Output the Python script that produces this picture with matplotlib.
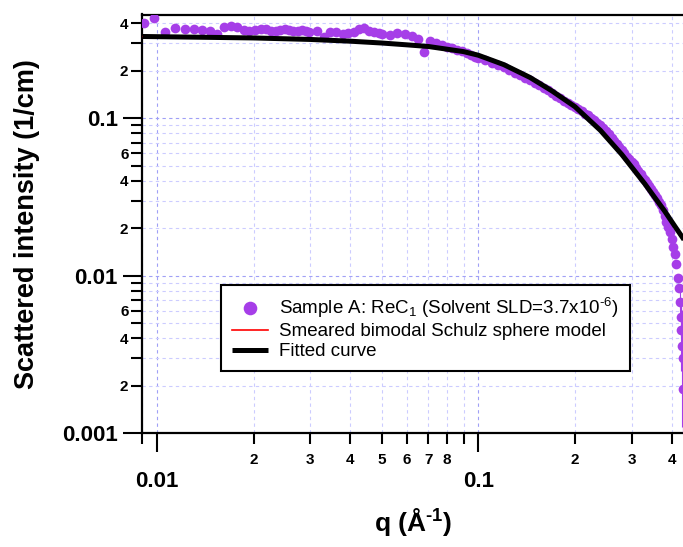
import numpy as np
import matplotlib
matplotlib.use('Agg')
import matplotlib.pyplot as plt
from matplotlib.ticker import LogLocator, FuncFormatter

plt.rcParams['font.family'] = 'Liberation Sans'
plt.rcParams['font.weight'] = 'bold'
plt.rcParams['axes.labelweight'] = 'bold'
plt.rcParams['mathtext.fontset'] = 'custom'
plt.rcParams['mathtext.rm'] = 'Liberation Sans'
plt.rcParams['mathtext.bf'] = 'Liberation Sans:bold'
plt.rcParams['mathtext.default'] = 'regular'

# measured data (sample A)
q_data = [
    0.0091, 0.0098, 0.0106, 0.0114, 0.0122, 0.0130, 0.0138, 0.0146, 0.0154, 0.0162,
    0.0170, 0.0178, 0.0186, 0.0194, 0.0202, 0.0210, 0.0218, 0.0226, 0.0234, 0.0242,
    0.0250, 0.0258, 0.0266, 0.0274, 0.0282, 0.0290, 0.0298, 0.0314, 0.0330, 0.0346,
    0.0362, 0.0378, 0.0394, 0.0410, 0.0426, 0.0442, 0.0458, 0.0474, 0.0490,
    0.050, 0.053, 0.056, 0.059, 0.062, 0.065, 0.068, 0.071, 0.074, 0.077,
    0.080, 0.083, 0.086, 0.089, 0.092, 0.095, 0.098,
    0.100, 0.105, 0.110, 0.115, 0.120, 0.125, 0.130, 0.135, 0.140, 0.145,
    0.150, 0.155, 0.160, 0.165, 0.170, 0.175, 0.180, 0.185, 0.190, 0.195,
    0.200, 0.205, 0.210, 0.215, 0.220, 0.225, 0.230, 0.235, 0.240, 0.245,
    0.250, 0.255, 0.260, 0.265, 0.270, 0.275, 0.280, 0.285, 0.290, 0.295,
    0.300, 0.305, 0.310, 0.315, 0.320, 0.325, 0.330, 0.335, 0.340, 0.345,
    0.350, 0.355, 0.360, 0.365, 0.370, 0.375, 0.380, 0.385, 0.390, 0.395,
    0.400, 0.405, 0.410, 0.414, 0.418, 0.421, 0.424, 0.427, 0.429, 0.431,
    0.433, 0.434,
]
I_data = [
    0.400, 0.430, 0.350, 0.371, 0.368, 0.366, 0.363, 0.358, 0.343, 0.378,
    0.382, 0.380, 0.362, 0.358, 0.365, 0.370, 0.366, 0.360, 0.357, 0.362,
    0.368, 0.365, 0.356, 0.360, 0.364, 0.358, 0.354, 0.360, 0.328, 0.352,
    0.350, 0.342, 0.345, 0.352, 0.366, 0.372, 0.356, 0.350, 0.345,
    0.342, 0.338, 0.346, 0.340, 0.330, 0.318, 0.264, 0.310, 0.300, 0.290,
    0.284, 0.278, 0.272, 0.265, 0.258, 0.252, 0.246,
    0.241, 0.233, 0.225, 0.217, 0.210, 0.202, 0.194, 0.187, 0.180, 0.174,
    0.168, 0.162, 0.156, 0.150, 0.144, 0.139, 0.134, 0.129, 0.125, 0.121,
    0.117, 0.114, 0.111, 0.107, 0.104, 0.100, 0.097, 0.093, 0.090, 0.086,
    0.083, 0.079, 0.075, 0.072, 0.069, 0.066, 0.063, 0.060, 0.057, 0.055,
    0.053, 0.051, 0.048, 0.046, 0.044, 0.042, 0.0405, 0.039, 0.037, 0.0355,
    0.034, 0.0325, 0.031, 0.0295, 0.028, 0.026, 0.024, 0.022, 0.0205, 0.019,
    0.0172, 0.0152, 0.0138, 0.0118, 0.0097, 0.0083, 0.0068, 0.0055, 0.0045, 0.0036,
    0.0030, 0.0019,
]
# error bars only matter on the last few points
q_tail = [0.424, 0.427, 0.429, 0.431, 0.433, 0.434]
I_tail = [0.0068, 0.0055, 0.0045, 0.0036, 0.0030, 0.0019]
err_tail = [0.0012, 0.0015, 0.002, 0.0025, 0.003, 0.009]

# fitted model curve
q_fit = [0.009, 0.02, 0.03, 0.04, 0.05, 0.06, 0.07, 0.08, 0.09, 0.10,
         0.11, 0.12, 0.1325, 0.145, 0.1575, 0.17, 0.185, 0.20, 0.22, 0.24,
         0.26, 0.28, 0.305, 0.33, 0.355, 0.38, 0.41, 0.44]
I_fit = [0.330, 0.323, 0.316, 0.308, 0.300, 0.292, 0.285, 0.274, 0.2645, 0.251,
         0.2337, 0.2189, 0.1983, 0.1812, 0.1634, 0.1485, 0.1319, 0.1183, 0.0987, 0.0837,
         0.0696, 0.0587, 0.0470, 0.0383, 0.0312, 0.0258, 0.0205, 0.0166]

PURPLE = '#a63ee8'

fig = plt.figure(figsize=(6.83, 5.47), dpi=100)
W, H = 683, 547
ax = fig.add_axes([142.3 / W, 1 - 433.3 / H, (684 - 142.3) / W, (433.3 - 14.5) / H])

ax.set_xscale('log')
ax.set_yscale('log')
ax.set_xlim(0.009, 0.437)
ax.set_ylim(0.001, 0.455)

# grid
ax.grid(which='major', color='#a0a0f6', ls=(0, (3, 3)), lw=0.8)
ax.grid(which='minor', color='#ccccff', ls=(0, (3, 3)), lw=0.8)
ax.set_axisbelow(True)

pts, = ax.plot(q_data, I_data, 'o', color=PURPLE, ms=7, mec='none', zorder=3)
ax.errorbar(q_tail, I_tail, yerr=err_tail, fmt='none', ecolor=PURPLE, elinewidth=0.8, zorder=3)
red, = ax.plot(q_fit, I_fit, color='red', lw=1.2, zorder=4)
fit, = ax.plot(q_fit, I_fit, color='black', lw=3.6, zorder=5, solid_capstyle='butt')

# ticks
def major_fmt(v, pos):
    return '%g' % v

def minor_fmt(keep):
    def f(v, pos):
        d = int(round(v / 10 ** np.floor(np.log10(v) + 1e-9)))
        return str(d) if d in keep else ''
    return f

ax.xaxis.set_major_locator(LogLocator(base=10))
ax.xaxis.set_minor_locator(LogLocator(base=10, subs=np.arange(2, 10), numticks=20))
ax.xaxis.set_major_formatter(FuncFormatter(major_fmt))
ax.xaxis.set_minor_formatter(FuncFormatter(minor_fmt({2, 3, 4, 5, 6, 7, 8})))
ax.yaxis.set_major_locator(LogLocator(base=10))
ax.yaxis.set_minor_locator(LogLocator(base=10, subs=np.arange(2, 10), numticks=20))
ax.yaxis.set_major_formatter(FuncFormatter(major_fmt))
ax.yaxis.set_minor_formatter(FuncFormatter(minor_fmt({2, 4, 6})))

ax.tick_params(which='major', direction='out', length=13.5, width=1.5, labelsize=16)
ax.tick_params(which='minor', direction='out', length=8, width=1.5, labelsize=11)
ax.tick_params(axis='x', which='major', pad=14)
ax.tick_params(axis='x', which='minor', pad=6)
ax.tick_params(axis='y', which='major', pad=4)
ax.tick_params(axis='y', which='minor', pad=2)

for s in ['left', 'bottom', 'top']:
    ax.spines[s].set_linewidth(1.6)
ax.spines['right'].set_visible(False)

# U+2010 hyphen keeps a short dash in the superscripts (ascii '-' turns into a minus)
ax.set_ylabel('Scattered intensity (1/cm)', fontsize=19.5, labelpad=16)
ax.set_xlabel('q (Å$^{\u20101}$)', fontsize=19, labelpad=10)

leg = ax.legend([pts, red, fit],
                ['Sample A: ReC$_1$ (Solvent SLD=3.7x10$^{\u20106}$)',
                 'Smeared bimodal Schulz sphere model',
                 'Fitted curve'],
                loc='upper left', bbox_to_anchor=(221 / W, 1 - 285 / H),
                bbox_transform=fig.transFigure,
                prop={'weight': 'normal', 'size': 13.5},
                frameon=True, fancybox=False, framealpha=1, edgecolor='black',
                handlelength=1.9, handletextpad=0.6, labelspacing=0.15,
                borderpad=0.6, borderaxespad=0, markerscale=1.4)
leg.get_frame().set_linewidth(1.5)

fig.savefig('out.png', dpi=100)
